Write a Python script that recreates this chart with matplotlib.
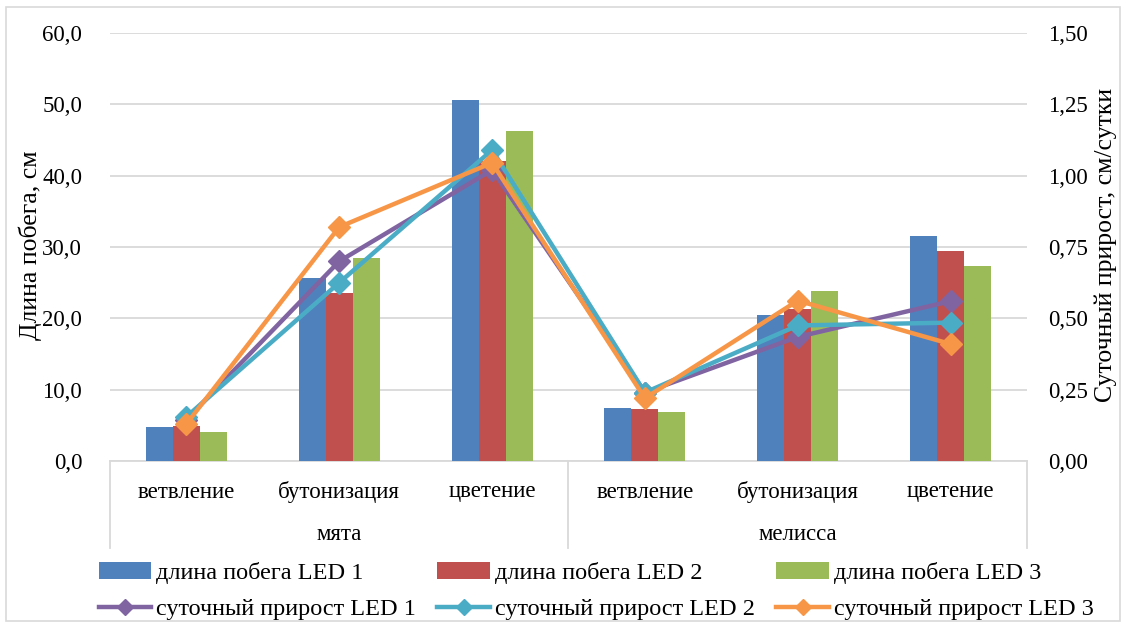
import numpy as np
import matplotlib
matplotlib.use('Agg')
import matplotlib.pyplot as plt
import matplotlib.patches as mpatches
from matplotlib.ticker import FuncFormatter
from matplotlib.transforms import blended_transform_factory

plt.rcParams['font.family'] = ['Liberation Serif', 'DejaVu Serif']

stages = ['ветвление', 'бутонизация', 'цветение', 'ветвление', 'бутонизация', 'цветение']
plants = ['мята', 'мелисса']

# shoot length, cm
length_led1 = [4.7, 25.6, 50.6, 7.4, 20.4, 31.6]
length_led2 = [4.9, 23.5, 42.0, 7.3, 21.3, 29.5]
length_led3 = [4.0, 28.5, 46.3, 6.9, 23.8, 27.3]

# daily growth, cm/day
growth_led1 = [0.145, 0.70, 1.02, 0.24, 0.435, 0.56]
growth_led2 = [0.155, 0.625, 1.09, 0.24, 0.475, 0.485]
growth_led3 = [0.13, 0.82, 1.045, 0.22, 0.562, 0.41]

bar_labels = ['длина побега LED 1', 'длина побега LED 2', 'длина побега LED 3']
line_labels = ['суточный прирост LED 1', 'суточный прирост LED 2', 'суточный прирост LED 3']
bar_colors = ['#4F81BD', '#C0504D', '#9BBB59']
line_colors = ['#8064A2', '#4BACC6', '#F79646']

fs = 16.5

fig = plt.figure(figsize=(11.26, 6.27), dpi=100)
ax = fig.add_axes([110 / 1126, 1 - 461 / 627, 917 / 1126, 428 / 627])
ax2 = ax.twinx()

x = np.arange(len(stages))
w = 0.177
bar_handles = []
for i, (vals, c, lab) in enumerate(zip([length_led1, length_led2, length_led3], bar_colors, bar_labels)):
    b = ax.bar(x + (i - 1) * w, vals, w, color=c, label=lab, zorder=3)
    bar_handles.append(b)

line_handles = []
for vals, c, lab in zip([growth_led1, growth_led2, growth_led3], line_colors, line_labels):
    l, = ax2.plot(x, vals, color=c, lw=3.2, marker='D', markersize=11,
                  label=lab, zorder=3)
    line_handles.append(l)

ax.set_xlim(-0.5, len(stages) - 0.5)
ax.set_ylim(0, 60)
ax.set_yticks(np.arange(0, 61, 10))
ax2.set_ylim(0, 1.5)
ax2.set_yticks(np.arange(0, 1.51, 0.25))
ax.yaxis.set_major_formatter(FuncFormatter(lambda v, p: f'{v:.1f}'.replace('.', ',')))
ax2.yaxis.set_major_formatter(FuncFormatter(lambda v, p: f'{v:.2f}'.replace('.', ',')))

ax.grid(axis='y', color='#d9d9d9', lw=1.3, zorder=0)
ax.set_axisbelow(True)
for a in (ax, ax2):
    for s in a.spines.values():
        s.set_visible(False)
ax.tick_params(axis='y', length=0, labelsize=fs, pad=20)
ax2.tick_params(axis='y', length=0, labelsize=fs, pad=15)
ax.spines['bottom'].set_visible(True)
ax.spines['bottom'].set_color('#d9d9d9')
ax.spines['bottom'].set_linewidth(1.3)
ax.set_xticks([])

# axis titles
fig.text(30 / 1126, 1 - 245 / 627, 'Длина побега, см', rotation=90,
         ha='center', va='center', fontsize=18.5)
fig.text(1106 / 1126, 1 - 245 / 627, 'Суточный прирост, см/сутки', rotation=90,
         ha='center', va='center', fontsize=18.5)

# two-level category axis
tr = blended_transform_factory(ax.transData, ax.transAxes)
px = 1 / 428
for xi, s in zip(x, stages):
    ax.text(xi, -31 * px, s, transform=tr, ha='center', va='center', fontsize=fs)
for gi, name in enumerate(plants):
    ax.text(gi * 3 + 1, -74 * px, name, transform=tr, ha='center', va='center', fontsize=fs)
for xb in [-0.5, 2.5, 5.5]:
    ax.plot([xb, xb], [0, -87 * px], transform=tr, color='#d9d9d9', lw=1.3,
            clip_on=False)

# chart border
fig.patches.append(mpatches.Rectangle((6 / 1126, 6 / 627), 1114 / 1126, 614 / 627,
                                      transform=fig.transFigure, fill=False,
                                      edgecolor='#d9d9d9', lw=1.2))

handles = []
labels = []
for b, l, bl, ll in zip(bar_handles, line_handles, bar_labels, line_labels):
    handles += [b, l]
    labels += [bl, ll]
fig.legend(handles, labels, ncol=3, loc='center', bbox_to_anchor=(596 / 1126, 1 - 591 / 627),
           frameon=False, fontsize=17.5, handlelength=2.15, handletextpad=0.2,
           columnspacing=0.9, labelspacing=0.6, borderpad=0, markerscale=0.75)

fig.savefig('out.png', dpi=100)
